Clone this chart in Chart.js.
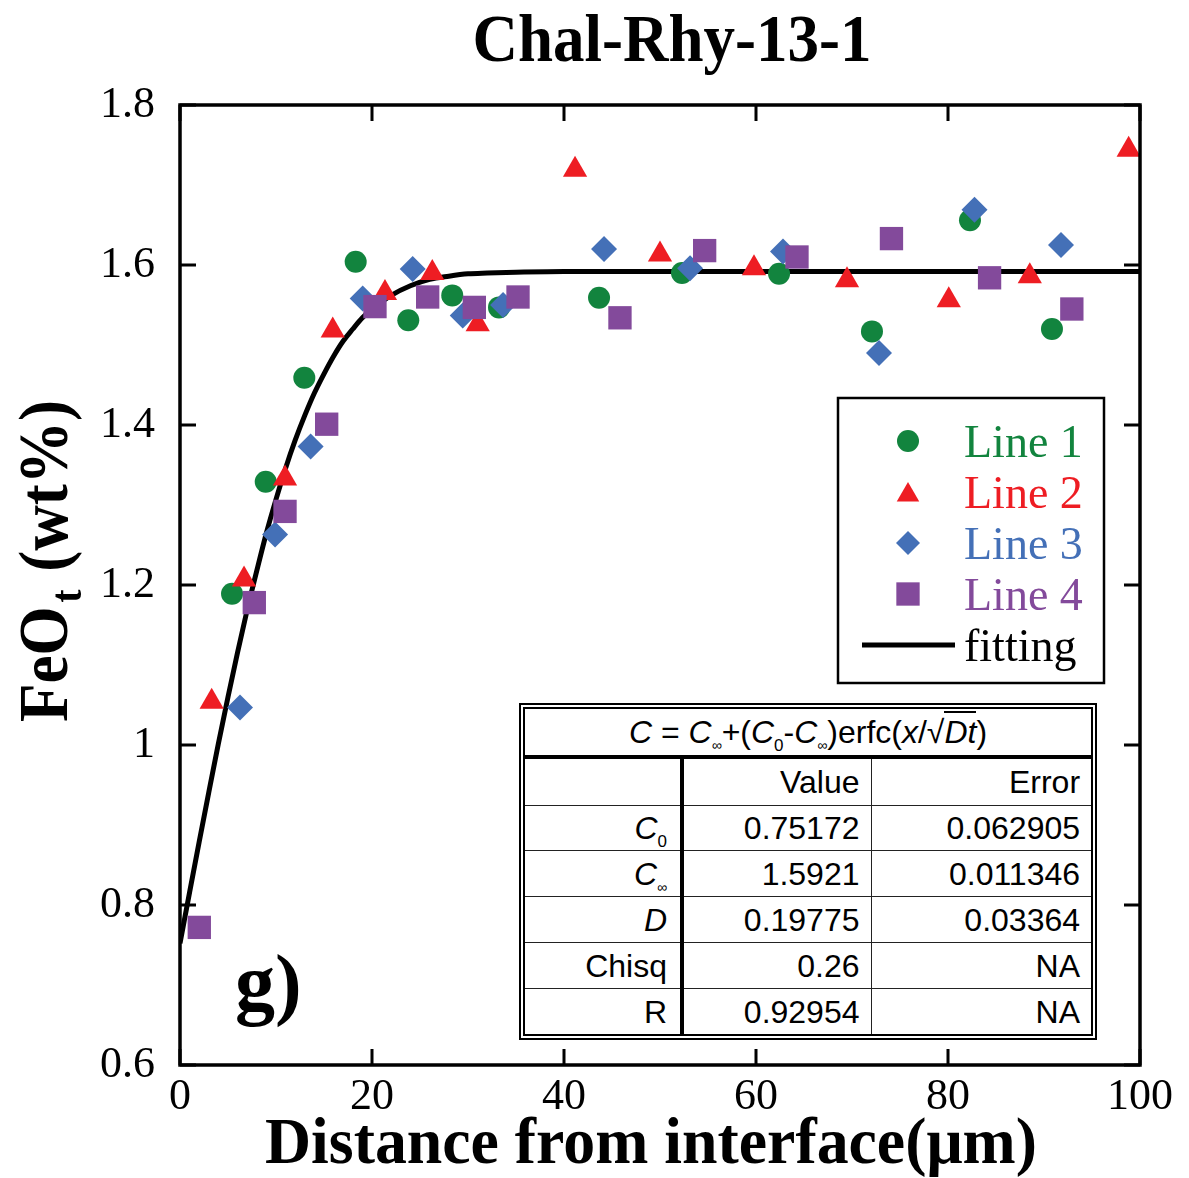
<!DOCTYPE html>
<html><head><meta charset="utf-8">
<script src="https://cdn.jsdelivr.net/npm/chart.js@4.4.1/dist/chart.umd.min.js"></script>
<style>
html,body{margin:0;padding:0;background:#fff;}
#wrap{position:relative;width:1189px;height:1178px;overflow:hidden;}
#c{position:absolute;left:0;top:0;}
#tbl{position:absolute;left:519px;top:703px;width:578px;height:337px;box-sizing:border-box;border:6px double #000;background:#fff;}
#tbl table{width:100%;height:100%;border-collapse:collapse;font-family:'Liberation Sans',Arial,sans-serif;font-size:32px;color:#000;table-layout:fixed;}
#tbl td{border-top:1px solid #222;text-align:right;padding:0 11px 0 0;line-height:1;white-space:nowrap;}
#tbl tr.f td{text-align:center;border-top:none;border-bottom:4px solid #000;padding:0;height:46px;font-size:32px;}
#tbl td.k{border-right:4px solid #000;padding-right:13px;}
#tbl td.v{border-right:1px solid #222;}
#tbl sub{font-size:17px;vertical-align:-8px;line-height:0;}
#tbl sub.inf{font-size:14px;vertical-align:-7px;}
.rt{border-top:2px solid #000;padding-top:1px;}
</style></head>
<body>
<div id="wrap">
<canvas id="c" width="1189" height="1178"></canvas>
<div id="tbl"><table>
<colgroup><col style="width:157px"><col style="width:189px"><col style="width:220px"></colgroup>
<tbody id="tb"></tbody></table></div>
</div>
<script>
// ---------------- data ----------------
const chartTitle = 'Chal-Rhy-13-1';
const xAxisTitle = 'Distance from interface(\u03bcm)';
const xTickValues = [0, 20, 40, 60, 80, 100];
const yTickValues = [0.6, 0.8, 1.0, 1.2, 1.4, 1.6, 1.8];
const yTickLabels = ['0.6', '0.8', '1', '1.2', '1.4', '1.6', '1.8'];
const seriesNames = ['Line 1', 'Line 2', 'Line 3', 'Line 4', 'fitting'];

const line1X = [5.42, 8.93, 12.95, 18.30, 23.78, 28.36, 33.23, 43.65, 52.29, 62.40, 72.08, 82.29, 90.83];
const line1Y = [1.189, 1.329, 1.459, 1.604, 1.531, 1.562, 1.547, 1.559, 1.590, 1.589, 1.517, 1.656, 1.520];

const line2X = [3.30, 6.67, 10.94, 15.91, 21.35, 26.28, 31.01, 41.15, 50.00, 59.79, 69.48, 80.08, 88.52, 98.82];
const line2Y = [1.054, 1.207, 1.333, 1.518, 1.565, 1.590, 1.526, 1.719, 1.613, 1.596, 1.581, 1.556, 1.586, 1.744];

const line3X = [6.25, 9.90, 13.61, 19.03, 24.24, 29.45, 33.65, 44.17, 53.13, 62.81, 72.81, 82.76, 91.77];
const line3Y = [1.047, 1.263, 1.373, 1.558, 1.595, 1.537, 1.550, 1.620, 1.596, 1.617, 1.490, 1.669, 1.625];

const line4X = [2.01, 7.74, 10.94, 15.28, 20.31, 25.80, 30.66, 35.21, 45.83, 54.65, 64.27, 74.11, 84.33, 92.90];
const line4Y = [0.772, 1.178, 1.292, 1.401, 1.548, 1.560, 1.547, 1.560, 1.534, 1.618, 1.610, 1.633, 1.584, 1.545];

const fitX = [0, 1, 2, 3, 4, 5, 6, 7, 8, 9, 10, 11, 12, 13, 14, 15, 16, 17, 18, 19, 20, 22, 24, 26, 28, 30, 32, 35, 40, 50, 60, 70, 80, 90, 100];
const fitY = [0.752, 0.816, 0.879, 0.941, 1.002, 1.060, 1.116, 1.169, 1.218, 1.265, 1.307, 1.346, 1.381, 1.412, 1.440, 1.464, 1.486, 1.505, 1.520, 1.534, 1.545, 1.562, 1.574, 1.582, 1.586, 1.589, 1.590, 1.591, 1.592, 1.592, 1.592, 1.592, 1.592, 1.592, 1.592];

const fitFormula = '<i>C</i> = <i>C</i><sub class="inf">\u221e</sub>+(<i>C</i><sub>0</sub>-<i>C</i><sub class="inf">\u221e</sub>)erfc(<i>x</i>/\u221a<span class="rt"><i>Dt</i></span>)';
const tableHead = ['', 'Value', 'Error'];
const paramLabels = ['<i>C</i><sub>0</sub>', '<i>C</i><sub class="inf">\u221e</sub>', '<i>D</i>', 'Chisq', 'R'];
const paramValues = ['0.75172', '1.5921', '0.19775', '0.26', '0.92954'];
const paramErrors = ['0.062905', '0.011346', '0.03364', 'NA', 'NA'];
const panelLabel = 'g)';

// ---------------- styles ----------------
const colors = ['#12843E', '#EE1D23', '#4470B7', '#834A9B', '#000000'];
const styles = ['circle', 'triangle', 'rectRot', 'rect'];
const radii = [11, 14, 13, 16.5];

// ---------------- table ----------------
(function buildTable(){
  const tb = document.getElementById('tb');
  let h = '<tr class="f"><td colspan="3">' + fitFormula + '</td></tr>';
  h += '<tr><td class="k">' + tableHead[0] + '</td><td class="v">' + tableHead[1] + '</td><td>' + tableHead[2] + '</td></tr>';
  for (let i = 0; i < paramLabels.length; i++) {
    h += '<tr><td class="k">' + paramLabels[i] + '</td><td class="v">' + paramValues[i] + '</td><td>' + paramErrors[i] + '</td></tr>';
  }
  tb.innerHTML = h;
})();

function pts(xs, ys){ return xs.map((x, i) => ({x: x, y: ys[i]})); }

// ---------------- plugins ----------------
const framePlugin = {
  id: 'frame',
  afterDatasetsDraw(chart){
    const {ctx, chartArea: a, scales: {x, y}} = chart;
    ctx.save();
    ctx.strokeStyle = '#000';
    ctx.lineWidth = 3.5;
    ctx.strokeRect(a.left, a.top, a.right - a.left, a.bottom - a.top);
    ctx.lineWidth = 3;
    const L = 16;
    ctx.beginPath();
    x.ticks.forEach(t => {
      const p = x.getPixelForValue(t.value);
      ctx.moveTo(p, a.bottom); ctx.lineTo(p, a.bottom - L);
      ctx.moveTo(p, a.top); ctx.lineTo(p, a.top + L);
    });
    y.ticks.forEach(t => {
      const p = y.getPixelForValue(t.value);
      ctx.moveTo(a.left, p); ctx.lineTo(a.left + L, p);
      ctx.moveTo(a.right, p); ctx.lineTo(a.right - L, p);
    });
    ctx.stroke();
    ctx.restore();
  }
};

function fitText(ctx, text, font, cx, baseY, targetW){
  ctx.save();
  ctx.font = font;
  const w = ctx.measureText(text).width;
  ctx.translate(cx, baseY);
  ctx.scale(targetW / w, 1);
  ctx.textAlign = 'center';
  ctx.textBaseline = 'alphabetic';
  ctx.fillStyle = '#000';
  ctx.fillText(text, 0, 0);
  ctx.restore();
}

function marker(ctx, style, x, y, r, color){
  ctx.save();
  ctx.fillStyle = color;
  ctx.beginPath();
  if (style === 'circle') { ctx.arc(x, y, r, 0, Math.PI * 2); }
  else if (style === 'triangle') {
    ctx.moveTo(x, y - r);
    ctx.lineTo(x + r * Math.sin(2 * Math.PI / 3), y + r * 0.5);
    ctx.lineTo(x - r * Math.sin(2 * Math.PI / 3), y + r * 0.5);
    ctx.closePath();
  } else if (style === 'rectRot') {
    ctx.moveTo(x, y - r); ctx.lineTo(x + r, y); ctx.lineTo(x, y + r); ctx.lineTo(x - r, y); ctx.closePath();
  } else {
    const s = r * Math.SQRT1_2; ctx.rect(x - s, y - s, 2 * s, 2 * s);
  }
  ctx.fill();
  ctx.restore();
}

const decorPlugin = {
  id: 'decor',
  afterDraw(chart){
    const ctx = chart.ctx;
    // main title
    fitText(ctx, chartTitle, 'bold 68px "Liberation Serif"', 672, 61, 399);
    // x title
    fitText(ctx, xAxisTitle, 'bold 66px "Liberation Serif"', 651, 1163, 772);
    // y title with subscript
    ctx.save();
    const f1 = 'bold 70px "Liberation Serif"', f2 = 'bold 44px "Liberation Serif"';
    ctx.font = f1; const w1 = ctx.measureText('FeO').width; const w3 = ctx.measureText(' (wt%)').width;
    ctx.font = f2; const w2 = ctx.measureText('t').width + 6;
    const tot = w1 + w2 + w3;
    ctx.translate(67, 561);
    ctx.rotate(-Math.PI / 2);
    ctx.scale(322 / tot, 1);
    ctx.fillStyle = '#000';
    ctx.textAlign = 'left'; ctx.textBaseline = 'alphabetic';
    let u = -tot / 2;
    ctx.font = f1; ctx.fillText('FeO', u, 0); u += w1;
    ctx.font = f2; ctx.fillText('t', u + 4, 14); u += w2;
    ctx.font = f1; ctx.fillText(' (wt%)', u, 0);
    ctx.restore();
    // panel label
    ctx.save();
    ctx.font = 'bold 80px "Liberation Serif"';
    ctx.fillStyle = '#000'; ctx.textAlign = 'left'; ctx.textBaseline = 'alphabetic';
    ctx.fillText(panelLabel, 235, 1010);
    ctx.restore();
    // legend
    ctx.save();
    ctx.fillStyle = '#fff';
    ctx.fillRect(838, 398, 266, 285);
    ctx.strokeStyle = '#000'; ctx.lineWidth = 2.5;
    ctx.strokeRect(838, 398, 266, 285);
    ctx.font = '46px "Liberation Serif"';
    ctx.textAlign = 'left'; ctx.textBaseline = 'alphabetic';
    const lr = [11, 13, 12, 16.5];
    for (let i = 0; i < 5; i++) {
      const cy = 441 + 51 * i;
      if (i < 4) marker(ctx, styles[i], 908, cy + (i === 1 ? 3 : 0), lr[i], colors[i]);
      else {
        ctx.beginPath(); ctx.strokeStyle = '#000'; ctx.lineWidth = 5;
        ctx.moveTo(862, cy); ctx.lineTo(955, cy); ctx.stroke();
      }
      ctx.fillStyle = colors[i];
      ctx.fillText(seriesNames[i], 964, cy + 16);
    }
    ctx.restore();
  }
};

// ---------------- chart ----------------
const scatterSets = [[line1X, line1Y], [line2X, line2Y], [line3X, line3Y], [line4X, line4Y]].map((d, i) => ({
  label: seriesNames[i],
  data: pts(d[0], d[1]),
  pointStyle: styles[i],
  pointRadius: radii[i],
  backgroundColor: colors[i],
  borderColor: colors[i],
  borderWidth: 0,
  showLine: false,
  order: 3 - i
}));

new Chart(document.getElementById('c'), {
  type: 'scatter',
  data: {
    datasets: scatterSets.concat([{
      label: seriesNames[4],
      data: pts(fitX, fitY),
      showLine: true,
      pointRadius: 0,
      borderColor: '#000',
      borderWidth: 5,
      cubicInterpolationMode: 'monotone',
      fill: false,
      order: 4
    }])
  },
  options: {
    responsive: false,
    devicePixelRatio: 1,
    animation: false,
    events: [],
    layout: {padding: {top: 105, right: 49, bottom: 0, left: 0}},
    plugins: {legend: {display: false}, title: {display: false}, tooltip: {enabled: false}},
    scales: {
      x: {
        type: 'linear', min: 0, max: 100,
        afterBuildTicks: s => { s.ticks = xTickValues.map(v => ({value: v})); },
        afterFit: s => { s.height = 113; },
        grid: {display: false, drawTicks: false},
        border: {display: false},
        ticks: {color: '#000', font: {family: 'Liberation Serif', size: 44}, padding: 6, maxRotation: 0, autoSkip: false}
      },
      y: {
        type: 'linear', min: 0.6, max: 1.8,
        afterBuildTicks: s => { s.ticks = yTickValues.map(v => ({value: v})); },
        afterFit: s => { s.width = 180; },
        grid: {display: false, drawTicks: false},
        border: {display: false},
        ticks: {color: '#000', font: {family: 'Liberation Serif', size: 44}, padding: 25, autoSkip: false,
          callback: (v, i) => yTickLabels[i]}
      }
    }
  },
  plugins: [framePlugin, decorPlugin]
});
</script>
</body></html>
